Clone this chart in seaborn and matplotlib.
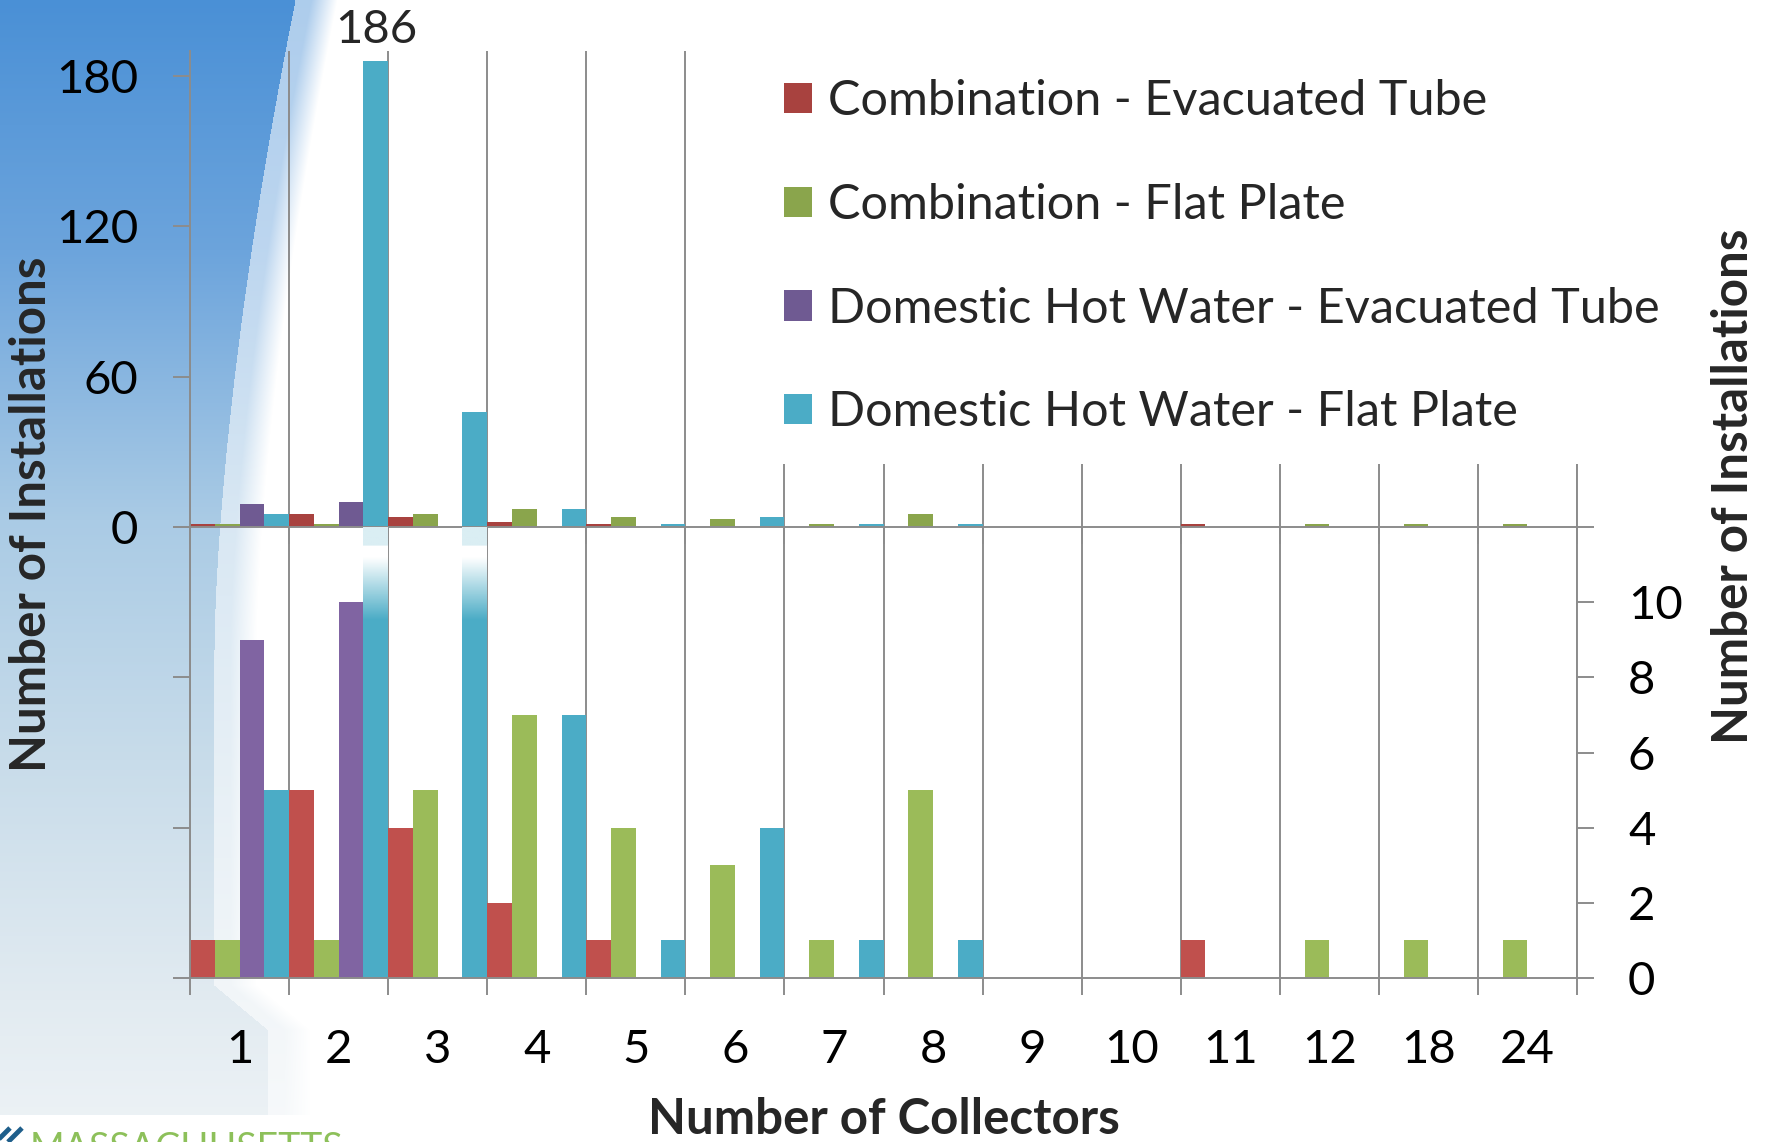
import numpy as np
import pandas as pd
import matplotlib
matplotlib.use("Agg")
import matplotlib.pyplot as plt
import seaborn as sns
from matplotlib.patches import Patch, Rectangle

# ---- data -------------------------------------------------------------
collectors = ["1", "2", "3", "4", "5", "6", "7", "8", "9", "10", "11", "12", "18", "24"]
series = ["Combination - Evacuated Tube",
          "Combination - Flat Plate",
          "Domestic Hot Water - Evacuated Tube",
          "Domestic Hot Water - Flat Plate"]
combo_evacuated = [1, 5, 4, 2, 1, 0, 0, 0, 0, 0, 1, 0, 0, 0]
combo_flat      = [1, 1, 5, 7, 4, 3, 1, 5, 0, 0, 0, 1, 1, 1]
dhw_evacuated   = [9, 10, 0, 0, 0, 0, 0, 0, 0, 0, 0, 0, 0, 0]
dhw_flat        = [5, 186, 46, 7, 1, 4, 1, 1, 0, 0, 0, 0, 0, 0]
upper_ticks = [0, 60, 120, 180]
right_ticks = [0, 2, 4, 6, 8, 10, 12]
right_labels = ["0", "2", "4", "6", "8", "10", ""]

upper_colors = ["#A8423F", "#8AA54C", "#6F5A92", "#4BACC6"]
lower_colors = ["#C0504D", "#9BBB59", "#8064A2", "#4BACC6"]

df = pd.DataFrame({
    "collectors": collectors * 4,
    "system": np.repeat(series, len(collectors)),
    "count": combo_evacuated + combo_flat + dhw_evacuated + dhw_flat,
})

# ---- style ------------------------------------------------------------
sns.set_theme(style="ticks")
plt.rcParams["font.family"] = ["Lato", "DejaVu Sans"]
GRID = "#8C8C8C"
FS = 34          # tick labels and value label
FS_LEG = 35      # legend entries
FS_TITLE = 35.5  # axis titles

W, H = 1773, 1142
fig = plt.figure(figsize=(W / 100, H / 100), dpi=100)
fig.patch.set_facecolor("white")


def fx(px):
    return px / W


def fy(py):
    return 1 - py / H


# ---- slide background (blue swoosh on the left) -----------------------
bg = fig.add_axes([0, 0, 1, 1], zorder=-10)
bg.set_xlim(0, W)
bg.set_ylim(H, 0)
bg.axis("off")

bw = 420
yy, xx = np.mgrid[0:H, 0:bw].astype(float)
stops_y = [0, 250, 520, 760, 1000, 1142]
stops_c = np.array([(74, 144, 214), (108, 164, 220), (170, 203, 229),
                    (200, 220, 234), (226, 235, 241), (238, 243, 246)]) / 255
base = np.stack([np.interp(yy, stops_y, stops_c[:, k]) for k in range(3)], axis=-1)
edge = 214 + 81 * np.clip(1 - yy / 650, 0, None) ** 1.6
edge = edge + 54 * np.clip((yy - 985) / 45, 0, 1)
t = xx - edge
white = np.ones(3)
light = 0.45 * base + 0.55 * white
img = np.where((t < 0)[..., None], base, light)
fade = np.clip((t - 16) / 26, 0, 1)[..., None]
img = img * (1 - fade) + white * fade
img[yy >= 1115] = 1.0
bg.imshow(img, extent=(0, bw, H, 0), aspect="auto", interpolation="bilinear")
bg.text(30, 1160, "MASSACHUSETTS", color="#8DC05A", fontsize=27,
        ha="left", va="baseline", family=["Lato", "DejaVu Sans"])
for off in (0, 12):
    bg.plot([-4 + off, 10 + off], [1142, 1128], color="#1F5F8B", lw=3.5,
            solid_capstyle="butt")
bg.set_xlim(0, W)
bg.set_ylim(H, 0)

# ---- axes -------------------------------------------------------------
left_px, right_px = 190, 1577
ax_top = fig.add_axes([fx(left_px), fy(527), (right_px - left_px) / W, (527 - 50.6) / H])
ax_low = fig.add_axes([fx(left_px), fy(978), (right_px - left_px) / W, (978 - 527) / H])
for ax in (ax_top, ax_low):
    ax.set_facecolor("none")

bar_kw = dict(data=df, x="collectors", y="count", hue="system", order=collectors,
              hue_order=series, width=1.0, gap=0, saturation=1, errorbar=None,
              legend=False, linewidth=0)
sns.barplot(palette=upper_colors, ax=ax_top, **bar_kw)
sns.barplot(palette=lower_colors, ax=ax_low, **bar_kw)

ax_top.set_ylim(0, 190)
ax_low.set_ylim(0, 12)

# fade the tops of bars running past the lower panel
ylo, yhi = ax_low.get_ylim()
fade_span = 2.47
prof = np.linspace(0, 1, 200)
alpha = np.where(prof < 0.2, 0.8, np.where(prof < 0.33, 1.0, 1 - (prof - 0.33) / 0.67))
rgba = np.ones((200, 1, 4))
rgba[:, 0, 3] = alpha
for p in list(ax_low.patches):
    if p.get_height() > yhi:
        x0 = p.get_x()
        ax_low.imshow(rgba, extent=(x0, x0 + p.get_width(), yhi - fade_span, yhi),
                      aspect="auto", zorder=3, interpolation="bilinear")

for ax in (ax_top, ax_low):
    ax.set_xlim(-0.5, len(collectors) - 0.5)
    ax.set_xticks(np.arange(-0.5, len(collectors), 1), minor=True)
    ax.tick_params(axis="x", which="major", length=0)
    ax.tick_params(axis="x", which="minor", length=12.2, width=1.4, color=GRID,
                   direction="out")
    ax.grid(False)
    ax.grid(axis="x", which="minor", color=GRID, lw=1.4)
    ax.set_axisbelow(True)
    ax.set_xlabel("")
    ax.set_ylabel("")
    for s in ax.spines.values():
        s.set_color(GRID)
        s.set_linewidth(1.4)
    ax.spines["top"].set_visible(False)

ax_top.set_ylim(0, 190)
ax_low.set_ylim(0, 12)

ax_top.tick_params(axis="x", labelbottom=False)
ax_top.set_yticks(upper_ticks)
ax_top.tick_params(axis="y", length=12.2, width=1.4, color=GRID, labelsize=FS,
                   pad=25, labelcolor="black")
ax_top.spines["right"].set_visible(True)

ax_low.set_xticks(range(len(collectors)))
ax_low.set_xticklabels(collectors)
ax_low.tick_params(axis="x", which="major", labelsize=FS, pad=36.5, labelcolor="black")
ax_low.set_yticks([0, 4, 8, 12])
ax_low.tick_params(axis="y", length=12.2, width=1.4, color=GRID, labelleft=False)
ax_low.spines["right"].set_visible(False)

tw = ax_low.twinx()
tw.set_ylim(0, 12)
tw.set_yticks(right_ticks)
tw.set_yticklabels(right_labels)
tw.tick_params(axis="y", length=12.2, width=1.4, color=GRID, labelsize=FS, pad=24.5,
               labelcolor="black")
for name, s in tw.spines.items():
    s.set_visible(name == "right")
    s.set_color(GRID)
    s.set_linewidth(1.4)

# value label on the tallest bar
tallest = max(ax_top.patches, key=lambda p: p.get_height())
ax_top.annotate(f"{tallest.get_height():.0f}",
                xy=(tallest.get_x() + tallest.get_width() / 2, tallest.get_height()),
                xytext=(0, 13), textcoords="offset points", ha="center",
                va="baseline", fontsize=FS, annotation_clip=False)

# ---- legend on a white panel -----------------------------------------
fig.patches.append(Rectangle((fx(775), fy(464)), (1665 - 775) / W, (464 - 40) / H,
                             transform=fig.transFigure, facecolor="white",
                             edgecolor="none", zorder=1))
handles = [Patch(facecolor=c, edgecolor="none") for c in upper_colors]
fig.legend(handles, series, loc="upper left", bbox_to_anchor=(fx(784), fy(79)),
           frameon=False, fontsize=FS_LEG, handlelength=0.58, handleheight=0.58,
           handletextpad=0.33, labelspacing=1.23, borderaxespad=0, borderpad=0)

# ---- axis titles ------------------------------------------------------
fig.text(fx(32), fy(514), "Number of Installations", rotation=90, ha="center",
         va="center", fontsize=FS_TITLE, fontweight="bold")
fig.text(fx(1733), fy(486), "Number of Installations", rotation=90, ha="center",
         va="center", fontsize=FS_TITLE, fontweight="bold")
fig.text(fx(884), fy(1119), "Number of Collectors", ha="center", va="center",
         fontsize=FS_TITLE, fontweight="bold")

fig.savefig("out.png", dpi=100)
